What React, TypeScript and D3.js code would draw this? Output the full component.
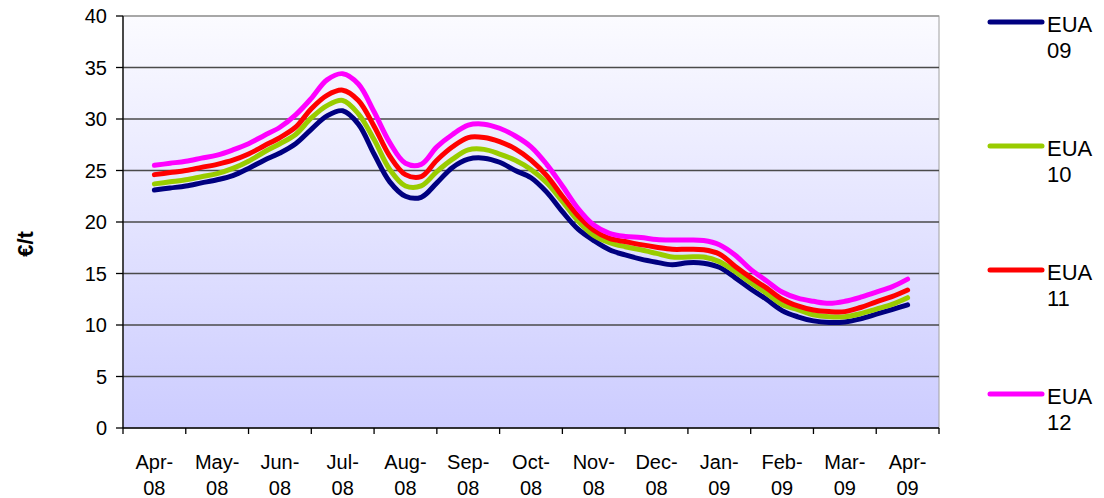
import React from "react";
import * as d3 from "d3";

// month position (0 = Apr-08 centre, 12 = Apr-09 centre), quarter-month steps
const monthPos: number[] = d3.range(0, 12.001, 0.25);

const eua09: number[] = [
  23.1, 23.3, 23.5, 23.8, 24.1, 24.5, 25.2, 26.0, 26.7, 27.6, 29.0, 30.3, 30.8,
  29.5, 26.6, 23.9, 22.5, 22.4, 23.8, 25.3, 26.1, 26.2, 25.8, 25.0, 24.3,
  22.9, 21.0, 19.3, 18.2, 17.3, 16.8, 16.4, 16.1, 15.85, 16.05, 16.0, 15.6,
  14.6, 13.5, 12.5, 11.4, 10.8, 10.4, 10.25, 10.3, 10.6, 11.05, 11.5, 11.95,
];
const eua10: number[] = [
  23.7, 23.9, 24.1, 24.4, 24.7, 25.2, 25.9, 26.8, 27.6, 28.5, 30.1, 31.3, 31.8,
  30.5, 28.0, 25.1, 23.5, 23.5, 24.9, 26.1, 27.0, 27.05, 26.6, 26.0, 25.1,
  23.8, 22.0, 20.1, 18.7, 18.0, 17.6, 17.3, 16.95, 16.6, 16.6, 16.6, 16.15,
  15.2, 14.1, 13.1, 12.0, 11.5, 11.0, 10.8, 10.8, 11.1, 11.55, 12.0, 12.65,
];
const eua11: number[] = [
  24.6, 24.8, 25.0, 25.3, 25.6, 26.0, 26.6, 27.4, 28.2, 29.2, 31.0, 32.3, 32.8,
  31.8, 29.3, 26.4, 24.6, 24.4, 26.0, 27.3, 28.2, 28.2, 27.8, 27.1, 26.0,
  24.5, 22.5, 20.6, 19.2, 18.4, 18.1, 17.8, 17.55, 17.35, 17.35, 17.3, 16.9,
  15.7, 14.6, 13.6, 12.5, 11.85, 11.45, 11.3, 11.3, 11.7, 12.25, 12.75, 13.4,
];
const eua12: number[] = [
  25.5, 25.7, 25.9, 26.2, 26.5, 27.0, 27.6, 28.4, 29.2, 30.4, 32.0, 33.8, 34.4,
  33.4, 30.7, 27.7, 25.7, 25.6, 27.3, 28.5, 29.4, 29.5, 29.1, 28.35, 27.3,
  25.6, 23.5, 21.3, 19.7, 18.9, 18.6, 18.5, 18.3, 18.25, 18.25, 18.2, 17.8,
  16.8, 15.4, 14.3, 13.2, 12.6, 12.3, 12.1, 12.3, 12.7, 13.2, 13.7, 14.45,
];

const seriesNames: string[] = ["EUA 09", "EUA 10", "EUA 11", "EUA 12"];
const seriesColors: string[] = ["#000080", "#99cc00", "#ff0000", "#ff00ff"];
const monthLabels: string[] = [
  "Apr-08", "May-08", "Jun-08", "Jul-08", "Aug-08", "Sep-08", "Oct-08",
  "Nov-08", "Dec-08", "Jan-09", "Feb-09", "Mar-09", "Apr-09",
];
const yTicks: number[] = [0, 5, 10, 15, 20, 25, 30, 35, 40];

const W = 1104;
const H = 498;
const plot = { left: 123, right: 939, top: 16, bottom: 428 };

export default function App() {
  const allSeries = [eua09, eua10, eua11, eua12];
  const y = d3.scaleLinear().domain([0, 40]).range([plot.bottom, plot.top]);
  const band = d3
    .scaleBand<string>()
    .domain(monthLabels)
    .range([plot.left, plot.right]);
  const bw = band.bandwidth();
  const x = d3
    .scaleLinear()
    .domain([0, 12])
    .range([plot.left + bw / 2, plot.left + bw / 2 + 12 * bw]);

  const line = d3
    .line<number>()
    .x((_, i) => x(monthPos[i]))
    .y((d) => y(d))
    .curve(d3.curveCatmullRom.alpha(0.5));

  const font = "'Liberation Sans', Arial, sans-serif";
  const tickEdges = monthLabels.map((m) => band(m) as number).concat([plot.right]);

  return (
    <svg
      width={W}
      height={H}
      style={{ position: "absolute", left: 0, top: 0 }}
      fontFamily={font}
    >
      <defs>
        <linearGradient id="bg" x1="0" y1="0" x2="0" y2="1">
          <stop offset="0%" stopColor="#fbfbff" />
          <stop offset="100%" stopColor="#ccccff" />
        </linearGradient>
      </defs>
      <rect width={W} height={H} fill="#ffffff" />
      <rect
        x={plot.left}
        y={plot.top}
        width={plot.right - plot.left}
        height={plot.bottom - plot.top}
        fill="url(#bg)"
        stroke="#a0a0a0"
        strokeWidth={1}
      />
      {yTicks
        .filter((t) => t > 0)
        .map((t) => (
          <line
            key={"g" + t}
            x1={plot.left}
            x2={plot.right}
            y1={y(t)}
            y2={y(t)}
            stroke={t === 40 ? "#9a9a9a" : "#4a4a4a"}
            strokeWidth={1.3}
          />
        ))}
      {allSeries.map((s, i) => (
        <path
          key={seriesNames[i]}
          d={line(s) || ""}
          fill="none"
          stroke={seriesColors[i]}
          strokeWidth={5}
          strokeLinejoin="round"
          strokeLinecap="round"
        />
      ))}
      <line x1={plot.left} x2={plot.left} y1={plot.top} y2={plot.bottom} stroke="#000" strokeWidth={1.3} />
      <line x1={plot.left} x2={plot.right} y1={plot.bottom} y2={plot.bottom} stroke="#000" strokeWidth={1.3} />
      {yTicks.map((t) => (
        <g key={"y" + t}>
          <line x1={plot.left - 7} x2={plot.left} y1={y(t)} y2={y(t)} stroke="#000" strokeWidth={1.3} />
          <text
            x={107}
            y={y(t)}
            dy="0.36em"
            textAnchor="end"
            fontSize={20}
            fill="#000"
          >
            {t}
          </text>
        </g>
      ))}
      {tickEdges.map((tx, i) => (
        <line key={"xt" + i} x1={tx} x2={tx} y1={plot.bottom} y2={plot.bottom + 6} stroke="#000" strokeWidth={1.3} />
      ))}
      {monthLabels.map((m) => {
        const cx = (band(m) as number) + bw / 2;
        const [mon, yr] = m.split("-");
        return (
          <text key={m} x={cx} textAnchor="middle" fontSize={20} fill="#000">
            <tspan x={cx} y={469}>{mon + "-"}</tspan>
            <tspan x={cx} y={495}>{yr}</tspan>
          </text>
        );
      })}
      <text
        transform={`translate(33,244) rotate(-90)`}
        textAnchor="middle"
        fontSize={22}
        fontWeight="bold"
        fill="#000"
      >
        €/t
      </text>
      {seriesNames.map((n, i) => {
        const ly = 22 + i * 124;
        const [a, b] = n.split(" ");
        return (
          <g key={"l" + n}>
            <line x1={990} x2={1042} y1={ly} y2={ly} stroke={seriesColors[i]} strokeWidth={5} strokeLinecap="round" />
            <text x={1047} fontSize={22} fill="#000">
              <tspan x={1047} y={ly + 10}>{a}</tspan>
              <tspan x={1047} y={ly + 36}>{b}</tspan>
            </text>
          </g>
        );
      })}
    </svg>
  );
}
